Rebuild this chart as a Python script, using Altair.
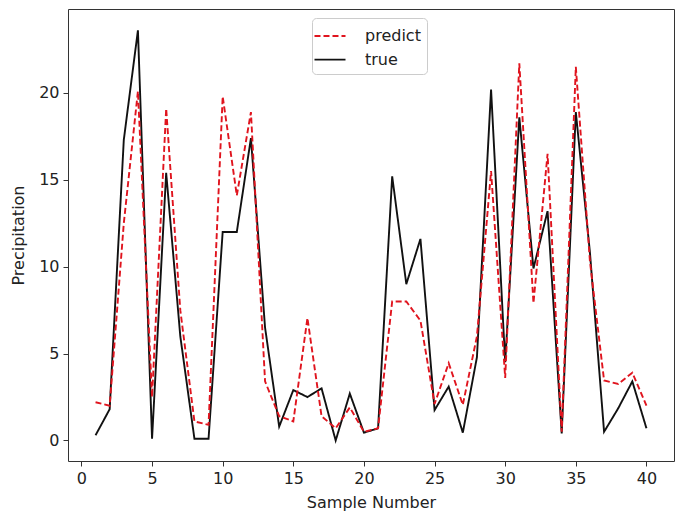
import altair as alt
import pandas as pd

sample = list(range(1, 41))
true_vals = [0.3, 1.8, 17.3, 23.6, 0.1, 15.4, 6.0, 0.1, 0.1, 12.0,
             12.0, 17.4, 6.5, 0.8, 2.9, 2.5, 3.0, 0.0, 2.7, 0.45,
             0.7, 15.2, 9.0, 11.6, 1.75, 3.1, 0.45, 4.8, 20.2, 4.5,
             18.6, 9.9, 13.2, 0.4, 18.9, 10.8, 0.5, 1.85, 3.4, 0.7]
predict_vals = [2.2, 2.0, 12.5, 20.1, 2.5, 19.1, 7.5, 1.1, 0.9, 19.8,
                14.1, 18.9, 3.4, 1.4, 1.1, 7.05, 1.4, 0.7, 1.9, 0.5,
                0.7, 8.0, 8.0, 6.9, 2.1, 4.45, 2.05, 6.0, 15.5, 3.6,
                21.7, 7.9, 16.5, 0.5, 21.5, 10.3, 3.45, 3.25, 3.9, 2.0]
series_names = ["predict", "true"]
series_colors = ["#e0141e", "#111111"]
x_ticks = [0, 5, 10, 15, 20, 25, 30, 35, 40]
y_ticks = [0, 5, 10, 15, 20]

df = pd.DataFrame({
    "sample": sample * 2,
    "value": predict_vals + true_vals,
    "series": ["predict"] * len(sample) + ["true"] * len(sample),
})

FONT = "DejaVu Sans"

x_enc = alt.X("sample:Q",
              scale=alt.Scale(domain=[-0.95, 41.95], nice=False, zero=False),
              axis=alt.Axis(values=x_ticks, title="Sample Number", format="d"))
y_enc = alt.Y("value:Q",
              scale=alt.Scale(domain=[-1.18, 24.83], nice=False, zero=False),
              axis=alt.Axis(values=y_ticks, title="Precipitation", format="d"))
color_enc = alt.Color("series:N",
                      scale=alt.Scale(domain=series_names, range=series_colors),
                      legend=alt.Legend(title=None, orient="none",
                                        legendX=244, legendY=9,
                                        symbolType="M-1.41,0H1.41",
                                        symbolSize=484,
                                        symbolStrokeWidth=1.8,
                                        labelOffset=23,
                                        rowPadding=3.6,
                                        padding=6,
                                        labelFontSize=16,
                                        labelFont=FONT,
                                        labelColor="#222222",
                                        fillColor="white",
                                        strokeColor="#cccccc",
                                        cornerRadius=4))
dash_enc = alt.StrokeDash("series:N",
                          scale=alt.Scale(domain=series_names, range=[[6, 3], [1, 0]]))

base = alt.Chart(df)
true_line = base.transform_filter(alt.datum.series == "true").mark_line(
    strokeWidth=1.9).encode(x=x_enc, y=y_enc, color=color_enc, strokeDash=dash_enc)
pred_line = base.transform_filter(alt.datum.series == "predict").mark_line(
    strokeWidth=1.9).encode(x=x_enc, y=y_enc, color=color_enc, strokeDash=dash_enc)

chart = alt.layer(true_line, pred_line).properties(
    width=606, height=452,
    autosize=alt.AutoSizeParams(type="none"),
    padding={"left": 60, "top": 1, "right": 3, "bottom": 52},
).configure_view(
    stroke="#333333", strokeWidth=1
).configure_axis(
    domain=False, grid=False,
    tickColor="#333333", tickSize=5, tickWidth=1,
    labelFont=FONT, labelFontSize=16, labelColor="#222222", labelPadding=4,
    titleFont=FONT, titleFontSize=16, titleFontWeight="normal", titleColor="#222222",
).configure_axisY(titlePadding=12).configure_axisX(titlePadding=8)

chart.save("out.html", embed_options={"renderer": "svg", "actions": False})
